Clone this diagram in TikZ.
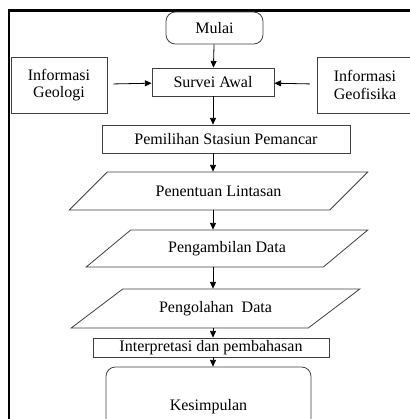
\documentclass[tikz,border=0pt]{standalone}
\usepackage{fontspec}
\setmainfont{Liberation Serif}
\usetikzlibrary{positioning,arrows.meta,shapes.geometric}

\begin{document}
\begin{tikzpicture}[
    x=0.75pt, y=-0.75pt,
    font=\fontsize{12}{13}\selectfont,
    >={Triangle[length=5pt,width=4.5pt]},
    blk/.style={draw=black!75, line width=0.6pt, fill=white, align=center, inner sep=0pt},
    term/.style={blk, rounded corners=7pt},
    io/.style={blk, trapezium, trapezium stretches=true,
               trapezium left angle=#1, trapezium right angle=180-#1},
    sig/.style={->, line width=0.6pt},
  ]
  \useasboundingbox (0,0) rectangle (410,419);

  % ============ Bingkai ============
  \draw[line width=1.8pt] (9,10.5) rectangle (430,440);

  % ============ Awal dan survei ============
  \node[term, minimum width=72.75pt, minimum height=24pt] (mulai) at (214.5,28) {Mulai};
  \node[blk, minimum width=72pt, minimum height=42pt] (geol) at (59,85) {Informasi\\Geologi};
  \node[blk, minimum width=91.5pt, minimum height=21pt] (survei) at (213,82) {Survei Awal};
  \node[blk, minimum width=72pt, minimum height=42pt] (geof) at (365,85) {Informasi\\Geofisika};

  \draw[sig] (mulai) -- (survei);
  \draw[sig, shorten <=4.5pt] (geol) -- (survei);
  \draw[sig, shorten <=5pt] (geof) -- (survei);

  % ============ Pengukuran ============
  \node[blk, minimum width=186pt, minimum height=21pt] (pilih) at (226,139) {Pemilihan Stasiun Pemancar};
  \node[io=26.6, minimum width=224.25pt, minimum height=28.5pt] (lintas) at (218.5,191) {Penentuan Lintasan};
  \node[io=28.2, minimum width=211.5pt, minimum height=27.75pt] (ambil) at (227,248.5) {Pengambilan Data};
  \node[io=24.9, minimum width=216.75pt, minimum height=29.25pt] (olah) at (215.5,308.5) {Pengolahan\ \ Data};

  % ============ Hasil ============
  \node[blk, minimum width=177pt, minimum height=14.25pt] (interp) at (211,347.5) {Interpretasi dan pembahasan};
  \node[term, minimum width=153.75pt, minimum height=60pt] (simpul) at (208.5,407) {Kesimpulan};

  \draw[sig] (survei) -- (pilih.north -| survei);
  \draw[sig] (pilih.south -| survei) -- (lintas.north -| survei);
  \draw[sig] (lintas.south -| survei) -- (ambil.north -| survei);
  \draw[sig] (ambil.south -| survei) -- (olah.north -| survei);
  \draw[sig] (olah.south -| survei) -- (interp.north -| survei);
  \draw[sig] (interp.south -| survei) -- (simpul.north -| survei);

\end{tikzpicture}
\end{document}
